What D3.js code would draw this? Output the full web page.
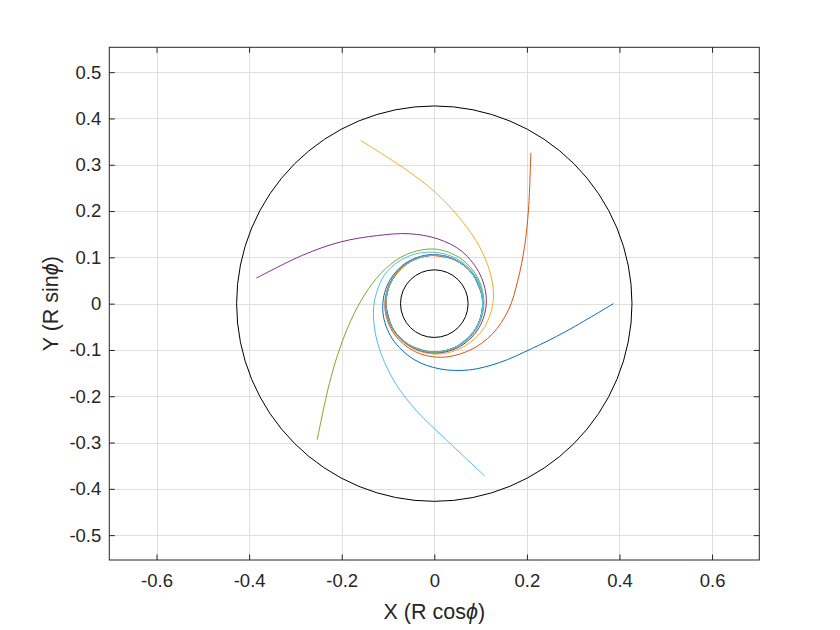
<!DOCTYPE html>
<html>
<head>
<meta charset="utf-8">
<script src="https://cdn.jsdelivr.net/npm/d3@7"></script>
<style>
  html, body { margin: 0; padding: 0; background: #ffffff; }
  svg { display: block; }
  text { font-family: "Liberation Sans", Arial, Helvetica, sans-serif; fill: #262626; }
</style>
</head>
<body>
<svg id="chart" width="840" height="630"></svg>
<script>
// ---------------- data ----------------
const xTicks = [-0.6, -0.4, -0.2, 0, 0.2, 0.4, 0.6];
const yTicks = [-0.5, -0.4, -0.3, -0.2, -0.1, 0, 0.1, 0.2, 0.3, 0.4, 0.5];
const xLimits = [-0.702, 0.702];
const yLimits = [-0.5537, 0.5537];
const boundaryRadii = [0.073, 0.427];

const seriesColors = ["#0072BD", "#D95319", "#EDB120", "#7E2F8E", "#77AC30", "#4DBEEE"];

// starting angle (deg) of each trajectory, and the sampled angles (deg) travelled from it
const startPhi = [0, 57.4, 114.3, 171.8, 229.3, 286.3];
const phiTravel = [0,-12,-25,-42,-62,-85,-110,-140,-170,-200,-230,-260,-290,-320,-350,-380,
                   -410,-440,-470,-500,-530,-560,-590,-620,-650,-680,-710];

// radius R at each sampled angle, one list per trajectory
const rBlue = [0.387,0.29,0.231,0.19,0.162,0.1415,0.1283,0.1183,0.1126,0.1093,0.1075,0.1063,0.1056,0.1051,0.1048,0.1046,
               0.1045,0.1045,0.1045,0.1045,0.1045,0.1045,0.1045,0.1045,0.1045,0.1045,0.1045];
const rOrange = [0.387,0.29,0.231,0.187,0.161,0.1415,0.1265,0.1168,0.1115,0.1087,0.1072,0.1062,0.1056,0.1051,0.1048,0.1046,
                 0.1045,0.1045,0.1045,0.1045,0.1045,0.1045,0.1045,0.1045,0.1045,0.1045,0.1045];
const rYellow = [0.3867,0.298,0.24,0.19,0.158,0.138,0.128,0.1195,0.1127,0.1092,0.1075,0.1063,0.1056,0.1051,0.1048,0.1046,
                 0.1045,0.1045,0.1045,0.1045,0.1045,0.1045,0.1045,0.1045,0.1045,0.1045,0.1045];
const rPurple = [0.388,0.303,0.243,0.1915,0.1605,0.14,0.1275,0.117,0.1125,0.1097,0.108,0.1068,0.1058,0.1052,0.1048,0.1046,
                 0.1045,0.1045,0.1045,0.1045,0.1045,0.1045,0.1045,0.1045,0.1045,0.1045,0.1045];
const rGreen = [0.388,0.285,0.222,0.175,0.1455,0.1295,0.122,0.1178,0.113,0.109,0.1072,0.1062,0.1056,0.1051,0.1048,0.1046,
                0.1045,0.1045,0.1045,0.1045,0.1045,0.1045,0.1045,0.1045,0.1045,0.1045,0.1045];
const rLightBlue = [0.3877,0.291,0.237,0.192,0.159,0.139,0.129,0.1235,0.116,0.1105,0.1082,0.1068,0.1058,0.1052,0.1048,0.1046,
                    0.1045,0.1045,0.1045,0.1045,0.1045,0.1045,0.1045,0.1045,0.1045,0.1045,0.1045];

const radiusLists = [rBlue, rOrange, rYellow, rPurple, rGreen, rLightBlue];

// ---------------- layout ----------------
const box = { left: 109.3, right: 759.3, top: 47.3, bottom: 560 };
const svg = d3.select("#chart");

const x = d3.scaleLinear().domain(xLimits).range([box.left, box.right]);
const y = d3.scaleLinear().domain(yLimits).range([box.bottom, box.top]);

svg.append("rect")
  .attr("x", box.left).attr("y", box.top)
  .attr("width", box.right - box.left).attr("height", box.bottom - box.top)
  .attr("fill", "#ffffff");

// grid
const grid = svg.append("g").attr("stroke", "#dfdfdf").attr("stroke-width", 1).attr("shape-rendering", "crispEdges");
grid.selectAll("line.gx").data(xTicks).join("line")
  .attr("x1", d => Math.round(x(d)) + 0.5).attr("x2", d => Math.round(x(d)) + 0.5)
  .attr("y1", box.top).attr("y2", box.bottom);
grid.selectAll("line.gy").data(yTicks).join("line")
  .attr("y1", d => Math.round(y(d)) + 0.5).attr("y2", d => Math.round(y(d)) + 0.5)
  .attr("x1", box.left).attr("x2", box.right);

const plot = svg.append("g");

// boundary circles
plot.selectAll("circle.bound").data(boundaryRadii).join("circle")
  .attr("cx", x(0)).attr("cy", y(0))
  .attr("r", d => x(d) - x(0))
  .attr("fill", "none").attr("stroke", "#000000").attr("stroke-width", 1);

// trajectories: X = R cos(phi), Y = R sin(phi)
const trajectories = radiusLists.map((rs, i) =>
  rs.map((r, j) => {
    const phi = (startPhi[i] + phiTravel[j]) * Math.PI / 180;
    return [r * Math.cos(phi), r * Math.sin(phi)];
  }));

const line = d3.line()
  .x(d => x(d[0])).y(d => y(d[1]))
  .curve(d3.curveCatmullRom.alpha(0.5));

plot.selectAll("path.traj").data(trajectories).join("path")
  .attr("d", line)
  .attr("fill", "none")
  .attr("stroke", (d, i) => seriesColors[i])
  .attr("stroke-width", 1);

// axes (ticks inward on all four sides)
const tickLen = 5.5;
const fmt = d => Math.abs(d) < 1e-9 ? "0" : d3.format(".1f")(d).replace("−", "-");
const axBottom = svg.append("g").attr("transform", `translate(0,${box.bottom})`)
  .call(d3.axisBottom(x).tickValues(xTicks).tickSizeInner(-tickLen).tickSizeOuter(0).tickPadding(14).tickFormat(fmt));
const axTop = svg.append("g").attr("transform", `translate(0,${box.top})`)
  .call(d3.axisTop(x).tickValues(xTicks).tickSizeInner(-tickLen).tickSizeOuter(0).tickFormat(""));
const axLeft = svg.append("g").attr("transform", `translate(${box.left},0)`)
  .call(d3.axisLeft(y).tickValues(yTicks).tickSizeInner(-tickLen).tickSizeOuter(0).tickPadding(8).tickFormat(fmt));
const axRight = svg.append("g").attr("transform", `translate(${box.right},0)`)
  .call(d3.axisRight(y).tickValues(yTicks).tickSizeInner(-tickLen).tickSizeOuter(0).tickFormat(""));

[axBottom, axTop, axLeft, axRight].forEach(a => {
  a.select(".domain").remove();
  a.selectAll(".tick line").attr("stroke", "#262626");
  a.selectAll("text").attr("fill", "#262626")
    .style("font-family", "'Liberation Sans', Arial, sans-serif").style("font-size", "18.5px");
});

// box
svg.append("rect")
  .attr("x", box.left).attr("y", box.top)
  .attr("width", box.right - box.left).attr("height", box.bottom - box.top)
  .attr("fill", "none").attr("stroke", "#262626").attr("stroke-width", 1);

// axis labels
const xl = svg.append("text")
  .attr("x", (box.left + box.right) / 2).attr("y", 619)
  .attr("text-anchor", "middle").style("font-size", "21.5px");
xl.append("tspan").text("X (R cos");
xl.append("tspan").style("font-style", "italic").text("ϕ");
xl.append("tspan").text(")");

const yl = svg.append("text")
  .attr("transform", `translate(58,${(box.top + box.bottom) / 2}) rotate(-90)`)
  .attr("text-anchor", "middle").style("font-size", "21.5px");
yl.append("tspan").text("Y (R sin");
yl.append("tspan").style("font-style", "italic").text("ϕ");
yl.append("tspan").text(")");
</script>
</body>
</html>
